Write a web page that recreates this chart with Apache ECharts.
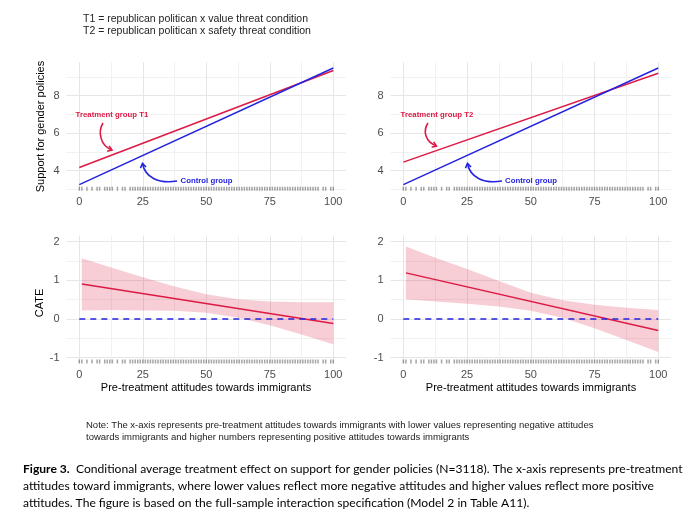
<!DOCTYPE html>
<html><head><meta charset="utf-8">
<script src="https://cdn.jsdelivr.net/npm/echarts@6/dist/echarts.min.js"></script>
<style>html,body{margin:0;padding:0;background:#fff}#c{width:695px;height:514px}</style>
</head><body><div id="c"></div>
<script>
// ---------- data ----------
const xTickLabels = [0, 25, 50, 75, 100];
const topYTickLabels = [4, 6, 8];
const bottomYTickLabels = [-1, 0, 1, 2];

const lineX = [0, 100];
const controlY = [3.25, 9.47];
const treatT1Y = [4.16, 9.34];
const treatT2Y = [4.45, 9.19];

const cateX = [1, 100];
const cateT1 = [0.90, -0.12];
const cateT2 = [1.19, -0.30];
const zeroX = [0, 100];
const zeroY = [0, 0];

const bandX = [1, 12.5, 25, 37.5, 50, 62.5, 75, 87.5, 100];
const t1Lower = [0.22, 0.23, 0.22, 0.21, 0.16, 0.03, -0.16, -0.40, -0.65];
const t1Upper = [1.57, 1.33, 1.08, 0.84, 0.64, 0.51, 0.45, 0.43, 0.43];
const t2Lower = [0.51, 0.45, 0.39, 0.32, 0.21, 0.03, -0.24, -0.54, -0.85];
const t2Upper = [1.87, 1.58, 1.29, 0.98, 0.68, 0.48, 0.37, 0.29, 0.23];

const rugX = [0, 1, 3, 5, 7, 8, 10, 11, 12, 13, 15, 17, 18, 20, 21, 22, 23, 24, 25, 26, 27, 28, 29, 30,
  31, 32, 33, 34, 35, 36, 37, 38, 39, 40, 41, 42, 43, 44, 45, 46, 47, 48, 49, 50, 51, 52, 53, 54, 55,
  56, 57, 58, 59, 60, 61, 62, 63, 64, 65, 66, 67, 68, 69, 70, 71, 72, 73, 74, 75, 76, 77, 78, 79, 80,
  81, 82, 83, 84, 85, 86, 87, 88, 89, 90, 91, 92, 93, 94, 96, 97, 99, 100];

// ---------- styling helpers ----------
const FONT = 'Liberation Sans, Arial, sans-serif';
const RED = '#dc1a44';
const BLUE = '#2323e0';
const MAJOR = '#e6e6e6', MINOR = '#f1f1f1', NONE = 'rgba(0,0,0,0)';

function gridColors(period, majorOff, minorOff) {
  const a = [];
  for (let i = 0; i < period; i++) a.push(i === majorOff ? MAJOR : (i === minorOff ? MINOR : NONE));
  return a;
}
function isIn(list, v) { return list.some(t => Math.abs(t - v) < 1e-6); }

const X_MIN = -5, X_MAX = 105, X_INT = 2.5;
const TOP_MIN = 2.925, TOP_MAX = 9.775, TOP_INT = 0.025;
const BOT_MIN = -1.15, BOT_MAX = 2.15, BOT_INT = 0.05;

const grids = [
  {left: 66.6, top: 62.3, width: 279.4, height: 128.4},
  {left: 390.6, top: 62.3, width: 280.4, height: 128.4},
  {left: 66.6, top: 235.7, width: 279.4, height: 127.8},
  {left: 390.6, top: 235.7, width: 280.4, height: 127.8}
];

const labelStyle = {color: '#4d4d4d', fontSize: 11, fontFamily: FONT};

const xAxes = [0, 1, 2, 3].map(g => ({
  gridIndex: g, type: 'value', min: X_MIN, max: X_MAX, interval: X_INT,
  axisLine: {show: false}, axisTick: {show: false},
  axisLabel: Object.assign({margin: 6, formatter: v => isIn(xTickLabels, v) ? String(Math.round(v)) : ''}, labelStyle),
  splitLine: {show: true, lineStyle: {width: 1, color: gridColors(10, 2, 7)}}
}));

const yAxes = [0, 1, 2, 3].map(g => {
  const top = g < 2;
  return {
    gridIndex: g, type: 'value',
    min: top ? TOP_MIN : BOT_MIN, max: top ? TOP_MAX : BOT_MAX, interval: top ? TOP_INT : BOT_INT,
    axisLine: {show: false}, axisTick: {show: false},
    axisLabel: Object.assign({margin: 7, formatter: v => isIn(top ? topYTickLabels : bottomYTickLabels, v) ? String(Math.round(v)) : ''}, labelStyle),
    splitLine: {show: true, lineStyle: {width: 1, color: top ? gridColors(80, 43, 3) : gridColors(20, 3, 13)}}
  };
});

function zip(xs, ys) { return xs.map((x, i) => [x, ys[i]]); }
function lineSeries(g, xs, ys, color, extra) {
  return Object.assign({
    type: 'line', xAxisIndex: g, yAxisIndex: g, data: zip(xs, ys), symbol: 'none',
    lineStyle: {color: color, width: 1.5}, silent: true, z: 5
  }, extra || {});
}
function rugSeries(g) {
  const y0 = g < 2 ? TOP_MIN : BOT_MIN;
  return {
    type: 'scatter', xAxisIndex: g, yAxisIndex: g, data: rugX.map(x => [x, y0]),
    symbol: 'rect', symbolSize: [1.5, 4], symbolOffset: [0, -2],
    itemStyle: {color: 'rgba(30,30,30,0.5)'}, silent: true, z: 3
  };
}
function bandSeries(g, lower, upper) {
  return {
    type: 'custom', xAxisIndex: g, yAxisIndex: g, silent: true, z: 2,
    data: bandX.map((x, i) => [x, lower[i], upper[i]]),
    encode: {x: 0, y: [1, 2]},
    renderItem: function (params, api) {
      if (params.dataIndex !== 0) return null;
      const pts = [];
      bandX.forEach((x, i) => pts.push(api.coord([x, upper[i]])));
      for (let i = bandX.length - 1; i >= 0; i--) pts.push(api.coord([bandX[i], lower[i]]));
      return {type: 'polygon', shape: {points: pts}, style: {fill: 'rgba(220,26,68,0.22)'}};
    }
  };
}

const series = [
  rugSeries(0), rugSeries(1), rugSeries(2), rugSeries(3),
  lineSeries(0, lineX, treatT1Y, RED),
  lineSeries(0, lineX, controlY, BLUE),
  lineSeries(1, lineX, treatT2Y, RED),
  lineSeries(1, lineX, controlY, BLUE),
  bandSeries(2, t1Lower, t1Upper),
  bandSeries(3, t2Lower, t2Upper),
  lineSeries(2, cateX, cateT1, RED),
  lineSeries(3, cateX, cateT2, RED),
  lineSeries(2, zeroX, zeroY, BLUE, {lineStyle: {color: BLUE, width: 1.5, type: [6, 5]}, z: 6}),
  lineSeries(3, zeroX, zeroY, BLUE, {lineStyle: {color: BLUE, width: 1.5, type: [6, 5]}, z: 6})
];

// ---------- annotations ----------
function arrow(x1, y1, cx1, cy1, cx2, cy2, x2, y2, color) {
  const dx = x2 - cx2, dy = y2 - cy2, L = Math.hypot(dx, dy);
  const ux = dx / L, uy = dy / L, len = 5, ang = 0.6;
  const w = s => [x2 - len * (ux * Math.cos(s * ang) - uy * Math.sin(s * ang)),
                  y2 - len * (uy * Math.cos(s * ang) + ux * Math.sin(s * ang))];
  return [
    {type: 'bezierCurve', silent: true, z: 10, shape: {x1, y1, cpx1: cx1, cpy1: cy1, cpx2: cx2, cpy2: cy2, x2, y2},
      style: {stroke: color, lineWidth: 1.6, fill: null}},
    {type: 'polyline', silent: true, z: 10, shape: {points: [w(1), [x2, y2], w(-1)]},
      style: {stroke: color, lineWidth: 1.6, fill: null}}
  ];
}
function txt(x, y, text, style) {
  return {type: 'text', silent: true, x, y, z: 10, style: Object.assign({text, fontFamily: FONT, fill: '#000', verticalAlign: 'middle'}, style)};
}
const annStyle = c => ({fill: c, fontSize: 7.8, fontWeight: 'bold', align: 'center'});

const graphic = [
  txt(83, 19, 'T1 = republican politican x value threat condition', {fontSize: 10.5, fill: '#222'}),
  txt(83, 31, 'T2 = republican politican x safety threat condition', {fontSize: 10.5, fill: '#222'}),
  {type: 'text', silent: true, x: 41, y: 126.5, rotation: Math.PI / 2,
    style: {text: 'Support for gender policies', fontFamily: FONT, fontSize: 11, fill: '#000', align: 'center', verticalAlign: 'middle'}},
  {type: 'text', silent: true, x: 40, y: 303, rotation: Math.PI / 2,
    style: {text: 'CATE', fontFamily: FONT, fontSize: 11, fill: '#000', align: 'center', verticalAlign: 'middle'}},
  txt(206, 388, 'Pre-treatment attitudes towards immigrants', {fontSize: 11, align: 'center'}),
  txt(531, 388, 'Pre-treatment attitudes towards immigrants', {fontSize: 11, align: 'center'}),
  txt(112, 115, 'Treatment group T1', annStyle(RED)),
  txt(206.5, 181, 'Control group', annStyle(BLUE)),
  txt(437, 115, 'Treatment group T2', annStyle(RED)),
  txt(531, 181, 'Control group', annStyle(BLUE)),
  ...arrow(103, 123, 97.5, 132, 100.5, 146, 112, 150, RED),
  ...arrow(177, 181, 158, 184, 145, 177, 142.5, 163.5, BLUE),
  ...arrow(428, 123, 422.5, 131, 425.5, 142, 436.5, 146, RED),
  ...arrow(502, 181, 483, 184, 470, 177, 467.5, 163.5, BLUE),
  txt(86, 425, 'Note: The x-axis represents pre-treatment attitudes towards immigrants with lower values representing negative attitudes', {fontSize: 9.5, fill: '#222'}),
  txt(86, 437, 'towards immigrants and higher numbers representing positive attitudes towards immigrants', {fontSize: 9.5, fill: '#222'}),
  {type: 'text', silent: true, x: 23, y: 469, style: {
    text: '{b|Figure 3.}  Conditional average treatment effect on support for gender policies (N=3118). The x-axis represents pre-treatment',
    fontFamily: 'Lato, sans-serif', fontSize: 12.1, fill: '#000', verticalAlign: 'middle',
    rich: {b: {fontFamily: 'Lato, sans-serif', fontSize: 12.1, fontWeight: 'bold', fill: '#000'}}}},
  txt(23, 486, 'attitudes toward immigrants, where lower values reflect more negative attitudes and higher values reflect more positive', {fontFamily: 'Lato, sans-serif', fontSize: 12.1}),
  txt(23, 503, 'attitudes. The figure is based on the full-sample interaction specification (Model 2 in Table A11).', {fontFamily: 'Lato, sans-serif', fontSize: 12.1})
];

const chart = echarts.init(document.getElementById('c'), null, {renderer: 'canvas'});
chart.setOption({
  animation: false,
  backgroundColor: '#fff',
  grid: grids,
  xAxis: xAxes,
  yAxis: yAxes,
  series: series,
  graphic: graphic
});
</script></body></html>
